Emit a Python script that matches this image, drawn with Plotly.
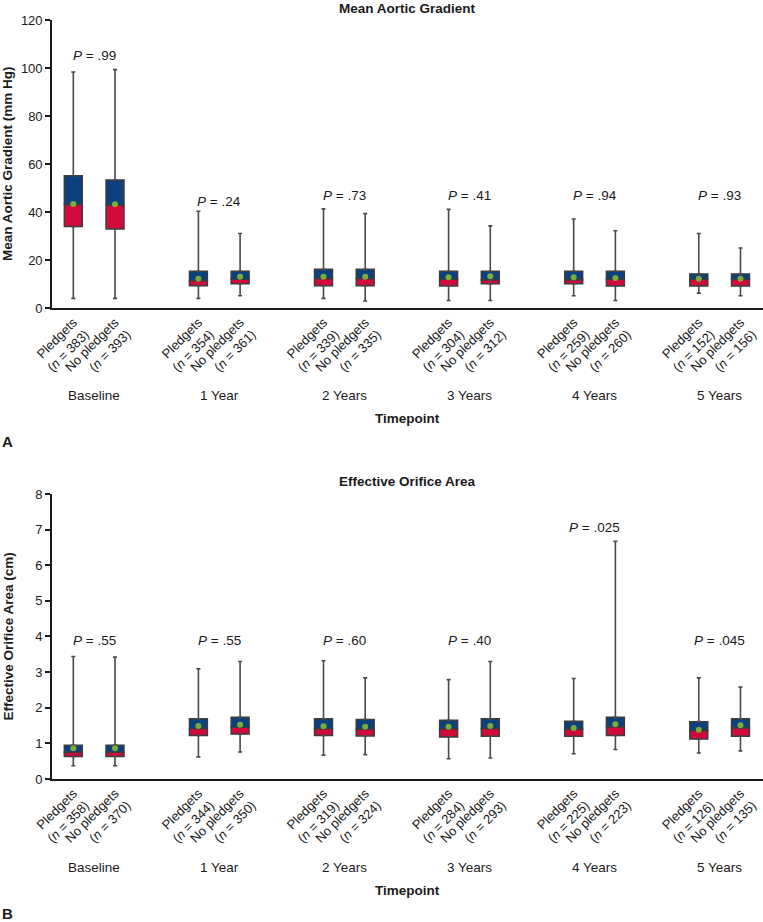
import plotly.graph_objects as go

# ---------------- data ----------------
timepoints = ["Baseline", "1 Year", "2 Years", "3 Years", "4 Years", "5 Years"]
groups = ["Pledgets", "No pledgets"]

# Panel A: Mean aortic gradient (mm Hg), order: P, NP for each timepoint
mag_n = [383, 393, 354, 361, 339, 335, 304, 312, 259, 260, 152, 156]
mag_min = [4.0, 4.0, 4.0, 5.1, 4.0, 2.9, 3.1, 3.1, 5.1, 3.1, 6.2, 5.1]
mag_q1 = [33.9, 32.9, 9.3, 10.1, 9.3, 9.3, 9.2, 10.1, 10.1, 9.2, 9.2, 9.2]
mag_med = [43.1, 42.9, 11.4, 12.0, 12.3, 12.3, 12.0, 11.8, 11.8, 12.0, 12.0, 12.0]
mag_q3 = [55.1, 53.3, 15.3, 15.3, 16.1, 16.1, 15.3, 15.3, 15.3, 15.3, 14.2, 14.2]
mag_max = [98.3, 99.3, 40.3, 31.0, 41.3, 39.3, 41.1, 34.2, 37.1, 32.2, 31.0, 25.0]
mag_mean = [43.3, 43.2, 12.2, 13.0, 13.0, 13.0, 12.8, 13.2, 12.8, 12.5, 12.2, 12.2]
mag_p = [".99", ".24", ".73", ".41", ".94", ".93"]
mag_p_y = [105.4, 44.3, 46.7, 46.7, 46.7, 46.7]

# Panel B: Effective orifice area (cm)
eoa_n = [358, 370, 344, 350, 319, 324, 284, 293, 225, 223, 126, 135]
eoa_min = [0.37, 0.37, 0.62, 0.76, 0.67, 0.68, 0.57, 0.59, 0.71, 0.83, 0.73, 0.79]
eoa_q1 = [0.63, 0.63, 1.22, 1.26, 1.22, 1.21, 1.18, 1.20, 1.20, 1.22, 1.12, 1.20]
eoa_med = [0.75, 0.75, 1.42, 1.45, 1.41, 1.40, 1.41, 1.42, 1.40, 1.47, 1.36, 1.44]
eoa_q3 = [0.95, 0.95, 1.69, 1.73, 1.69, 1.67, 1.65, 1.69, 1.62, 1.73, 1.61, 1.69]
eoa_max = [3.44, 3.42, 3.09, 3.30, 3.32, 2.84, 2.79, 3.30, 2.82, 6.67, 2.84, 2.58]
eoa_mean = [0.86, 0.86, 1.49, 1.52, 1.48, 1.47, 1.47, 1.49, 1.43, 1.54, 1.38, 1.51]
eoa_p = [".55", ".55", ".60", ".40", ".025", ".045"]
eoa_p_y = [3.88, 3.88, 3.88, 3.88, 7.07, 3.88]

# ---------------- styling ----------------
FONT = "Liberation Sans, Arial, Helvetica, sans-serif"
BLUE = "#0b427e"
RED = "#d20a3c"
GREEN = "#7dab3a"
OUTLINE = "#3c3c3c"
WHISK = "#4a4a4a"
BOXW = 0.43

# x positions: two boxes per timepoint, 1 unit apart, 3 units between timepoints
xpos = []
for k in range(len(timepoints)):
    xpos += [3 * k, 3 * k + 1]
centers = [3 * k + 0.5 for k in range(len(timepoints))]


def ticktext(ns):
    out = []
    for i, n in enumerate(ns):
        g = groups[i % 2]
        out.append(f"{g}<br>(<i>n</i> = {n})")
    return out


fig = go.Figure()


def add_panel(xa, ya, mn, q1, med, q3, mx, mean):
    lower = [m - a for m, a in zip(med, q1)]
    upper = [b - m for b, m in zip(q3, med)]
    fig.add_trace(go.Bar(x=xpos, y=lower, base=q1, width=BOXW, xaxis=xa, yaxis=ya,
                         marker=dict(color=RED, line=dict(color=OUTLINE, width=1.5)),
                         hoverinfo="skip"))
    fig.add_trace(go.Bar(x=xpos, y=upper, base=med, width=BOXW, xaxis=xa, yaxis=ya,
                         marker=dict(color=BLUE, line=dict(color=OUTLINE, width=1.5)),
                         hoverinfo="skip"))
    # upper whiskers
    fig.add_trace(go.Scatter(x=xpos, y=q3, mode="markers", xaxis=xa, yaxis=ya,
                             marker=dict(size=1, color="rgba(0,0,0,0)"),
                             error_y=dict(type="data", symmetric=False,
                                          array=[b - a for a, b in zip(q3, mx)],
                                          arrayminus=[0] * len(q3),
                                          width=2, thickness=1.6, color=WHISK),
                             hoverinfo="skip"))
    # lower whiskers
    fig.add_trace(go.Scatter(x=xpos, y=q1, mode="markers", xaxis=xa, yaxis=ya,
                             marker=dict(size=1, color="rgba(0,0,0,0)"),
                             error_y=dict(type="data", symmetric=False,
                                          array=[0] * len(q1),
                                          arrayminus=[a - b for a, b in zip(q1, mn)],
                                          width=2, thickness=1.6, color=WHISK),
                             hoverinfo="skip"))
    # means
    fig.add_trace(go.Scatter(x=xpos, y=mean, mode="markers", xaxis=xa, yaxis=ya,
                             marker=dict(size=6, color=GREEN), hoverinfo="skip"))


add_panel("x", "y", mag_min, mag_q1, mag_med, mag_q3, mag_max, mag_mean)
add_panel("x2", "y2", eoa_min, eoa_q1, eoa_med, eoa_q3, eoa_max, eoa_mean)

xr = [-0.511, 16.54]
axis_common = dict(showline=True, linecolor="#1a1a1a", linewidth=1.6,
                   showgrid=False, zeroline=False,
                   tickfont=dict(family=FONT, size=13, color="#1a1a1a"))

fig.update_layout(
    width=763, height=922,
    margin=dict(l=52, r=0, t=20, b=143),
    paper_bgcolor="white", plot_bgcolor="white",
    showlegend=False, barmode="overlay", hovermode=False,
    font=dict(family=FONT, size=13, color="#1a1a1a"),
    xaxis=dict(domain=[0, 1], range=xr, anchor="y", tickmode="array",
               tickvals=xpos, ticktext=ticktext(mag_n), tickangle=-45,
               ticks="", **axis_common),
    yaxis=dict(domain=[0.6206, 1.0], range=[0, 120], anchor="x",
               tickmode="array", tickvals=[0, 20, 40, 60, 80, 100, 120],
               ticks="outside", ticklen=5, tickwidth=1.5, tickcolor="#1a1a1a",
               **axis_common),
    xaxis2=dict(domain=[0, 1], range=xr, anchor="y2", tickmode="array",
                tickvals=xpos, ticktext=ticktext(eoa_n), tickangle=-45,
                ticks="", **axis_common),
    yaxis2=dict(domain=[0, 0.3755], range=[0, 8], anchor="x2",
                tickmode="array", tickvals=list(range(9)),
                ticks="outside", ticklen=5, tickwidth=1.5, tickcolor="#1a1a1a",
                **axis_common),
)

ann = []
bold = dict(family=FONT, size=13.5, color="#1a1a1a")
for xa, ya, title, ytitle, pv, py, letter in [
    ("x", "y", "Mean Aortic Gradient", "Mean Aortic Gradient (mm Hg)", mag_p, mag_p_y, "A"),
    ("x2", "y2", "Effective Orifice Area", "Effective Orifice Area (cm)", eoa_p, eoa_p_y, "B"),
]:
    ann.append(dict(text=f"<b>{title}</b>", xref=f"{xa} domain", yref=f"{ya} domain",
                    x=0.5, y=1, yshift=12, showarrow=False, yanchor="middle",
                    font=bold))
    ann.append(dict(text=f"<b>{ytitle}</b>", xref="paper", yref=f"{ya} domain",
                    x=0, xshift=-44, y=0.5, textangle=-90, showarrow=False,
                    xanchor="center", yanchor="middle", font=bold))
    for c, tp in zip(centers, timepoints):
        ann.append(dict(text=tp, xref=xa, yref=f"{ya} domain", x=c, y=0, yshift=-88,
                        showarrow=False, yanchor="middle",
                        font=dict(family=FONT, size=13.5, color="#1a1a1a")))
    for c, p, yy in zip(centers, pv, py):
        ann.append(dict(text=f"<i>P</i> = {p}", xref=xa, yref=ya, x=c, y=yy,
                        showarrow=False, yanchor="middle",
                        font=dict(family=FONT, size=13.5, color="#1a1a1a")))
    ann.append(dict(text="<b>Timepoint</b>", xref=f"{xa} domain", yref=f"{ya} domain",
                    x=0.5, y=0, yshift=-111, showarrow=False, yanchor="middle",
                    font=bold))
    ann.append(dict(text=f"<b>{letter}</b>", xref="paper", yref=f"{ya} domain",
                    x=0, xshift=-52, y=0, yshift=-134, showarrow=False,
                    xanchor="left", yanchor="middle",
                    font=dict(family=FONT, size=15, color="#1a1a1a")))

fig.update_layout(annotations=ann)
fig.write_html("out.html",
               config={"displayModeBar": False},
               post_script="document.body.style.margin='0';"
                           "document.body.style.overflow='hidden';")
